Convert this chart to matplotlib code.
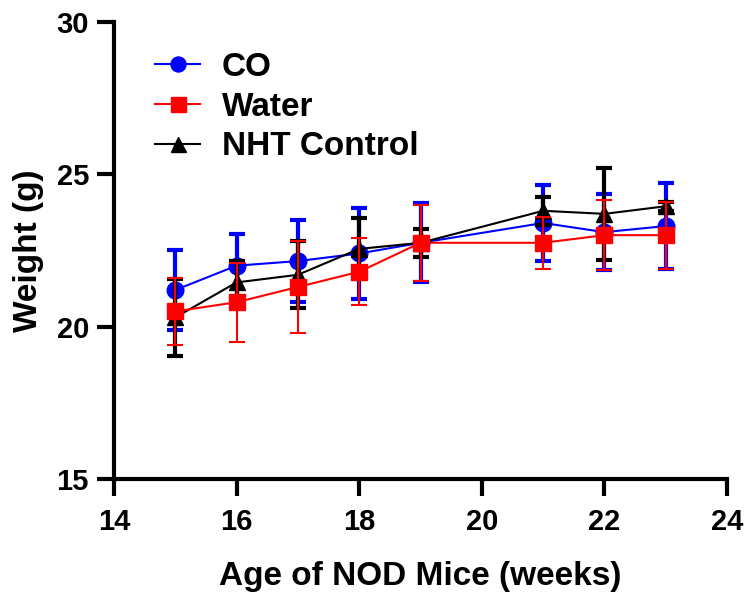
import matplotlib.pyplot as plt
import numpy as np

plt.rcParams['font.family'] = ['Liberation Sans', 'DejaVu Sans']
plt.rcParams['font.weight'] = 'bold'

weeks = [15, 16, 17, 18, 19, 21, 22, 23]

co_mean = [21.2, 22.0, 22.15, 22.4, 22.75, 23.4, 23.1, 23.3]
co_err = [1.3, 1.05, 1.35, 1.5, 1.3, 1.25, 1.25, 1.4]

water_mean = [20.5, 20.8, 21.3, 21.8, 22.75, 22.75, 23.0, 23.0]
water_err = [1.1, 1.3, 1.5, 1.1, 1.25, 0.85, 1.15, 1.1]

nht_mean = [20.3, 21.45, 21.7, 22.55, 22.75, 23.8, 23.7, 23.95]
nht_err = [1.25, 0.7, 1.1, 1.0, 0.45, 0.45, 1.5, 0.15]

fig = plt.figure(figsize=(7.45, 5.92), dpi=100)
ax = fig.add_axes([0.153, 0.191, 0.823, 0.772])

ax.errorbar(weeks, co_mean, yerr=co_err, color='#0000ff', marker='o', markersize=12,
            lw=1.5, elinewidth=3, capsize=6, capthick=3, label='CO', zorder=3)
ax.errorbar(weeks, water_mean, yerr=water_err, color='#ff0000', marker='s', markersize=12,
            lw=1.5, elinewidth=1.5, capsize=6, capthick=1.5, label='Water', zorder=5)
ax.errorbar(weeks, nht_mean, yerr=nht_err, color='black', marker='^', markersize=12,
            lw=1.5, elinewidth=3, capsize=6, capthick=3, label='NHT Control', zorder=4)

ax.set_xlim(14, 24)
ax.set_ylim(15, 30)
ax.set_xticks([14, 16, 18, 20, 22, 24])
ax.set_yticks([15, 20, 25, 30])

for s in ['top', 'right']:
    ax.spines[s].set_visible(False)
for s in ['left', 'bottom']:
    ax.spines[s].set_linewidth(3)
ax.tick_params(width=3, length=12, labelsize=21)
ax.tick_params(axis='x', pad=9)
ax.tick_params(axis='y', pad=6)

ax.set_xlabel('Age of NOD Mice (weeks)', fontsize=24, fontweight='bold', labelpad=18)
ax.set_ylabel('Weight (g)', fontsize=24, fontweight='bold', labelpad=9)

h, l = ax.get_legend_handles_labels()
h = [hh[0] for hh in h]
ax.legend(h, l, loc='upper left', frameon=False, fontsize=24, handlelength=1.35,
          handletextpad=0.66, bbox_to_anchor=(0.018, 1.0), labelspacing=0.26,
          markerscale=0.9)

fig.savefig('out.png', dpi=100)
